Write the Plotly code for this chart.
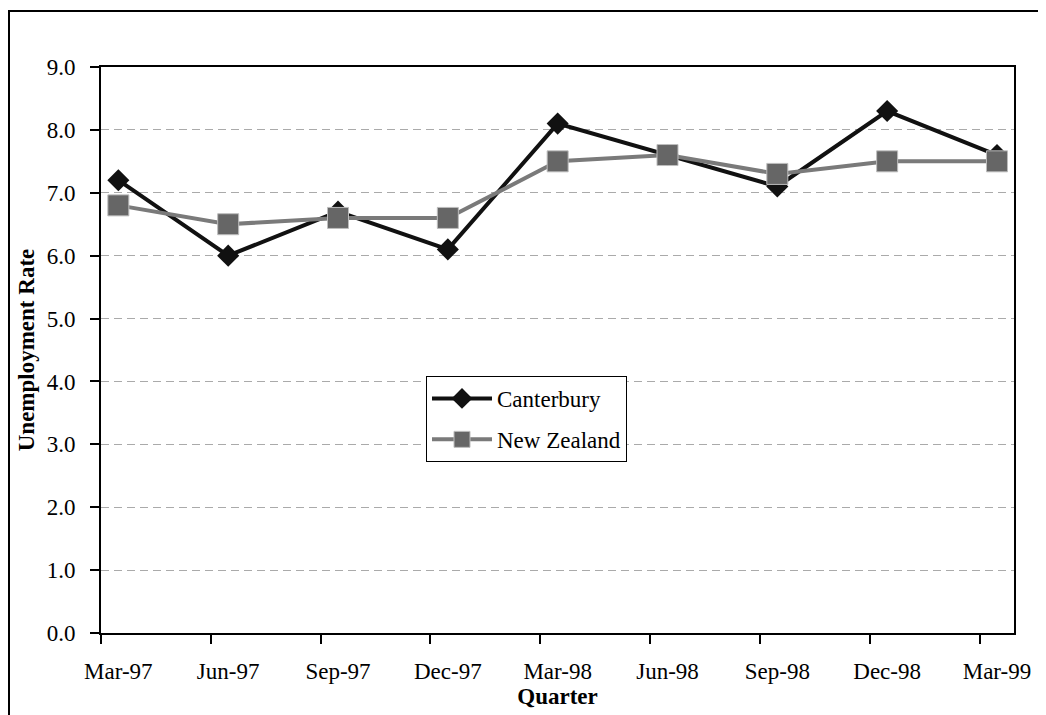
import plotly.graph_objects as go

quarters = ["Mar-97", "Jun-97", "Sep-97", "Dec-97", "Mar-98", "Jun-98", "Sep-98", "Dec-98", "Mar-99"]
canterbury = [7.2, 6.0, 6.7, 6.1, 8.1, 7.6, 7.1, 8.3, 7.6]
new_zealand = [6.8, 6.5, 6.6, 6.6, 7.5, 7.6, 7.3, 7.5, 7.5]
y_ticks = [0, 1, 2, 3, 4, 5, 6, 7, 8, 9]

# page body has an 8px default margin, so the figure is sized/offset for it
PAD = 8
W, H = 1046 - PAD, 715 - PAD
L, R, T, B = 101 - PAD, 32, 67 - PAD, 82
pw, ph = W - L - R, H - T - B

pos = list(range(len(quarters)))
off = 0.158
FONT = "Liberation Serif, Times New Roman, serif"
FS = 23

fig = go.Figure()
fig.add_trace(go.Scatter(
    x=pos, y=canterbury, name="Canterbury", mode="lines+markers",
    legendgroup="a",
    line=dict(color="#111111", width=4),
    marker=dict(symbol="diamond", size=17, color="#111111"),
))
fig.add_trace(go.Scatter(
    x=pos, y=new_zealand, name="New Zealand", mode="lines+markers",
    legendgroup="b",
    line=dict(color="#7a7a7a", width=4),
    marker=dict(symbol="square", size=21, color="#666666",
                line=dict(color="#bdbdbd", width=1)),
))

xr = [-off, len(quarters) - 1 + off - 0.003]
fig.update_layout(
    width=W, height=H,
    margin=dict(l=L, r=R, t=T, b=B),
    paper_bgcolor="white", plot_bgcolor="white",
    font=dict(family=FONT, size=FS, color="black"),
    showlegend=True,
    legend=dict(
        x=(426 - 101) / pw, y=(633 - 376) / ph, xanchor="left", yanchor="top",
        bgcolor="white", bordercolor="black", borderwidth=1,
        font=dict(family=FONT, size=FS, color="black"),
        itemwidth=60, traceorder="grouped", tracegroupgap=8,
    ),
    xaxis=dict(
        range=xr, tickmode="array", tickvals=[p - off for p in pos],
        showticklabels=False, ticks="outside", ticklen=9, tickwidth=1.5,
        tickcolor="black", showgrid=False, zeroline=False,
        showline=True, linecolor="black", linewidth=2, mirror=True,
    ),
    xaxis2=dict(
        range=xr, overlaying="x", anchor="y", side="bottom",
        tickmode="array", tickvals=pos, ticktext=quarters,
        ticks="", ticklabelstandoff=22, showgrid=False, zeroline=False,
        showline=False,
        title=dict(text="<b>Quarter</b>", standoff=3,
                   font=dict(family=FONT, size=FS, color="black")),
    ),
    yaxis=dict(
        range=[0, 9], tickmode="array", tickvals=y_ticks,
        ticktext=[f"{v:.1f}" for v in y_ticks],
        ticks="outside", ticklen=9, tickwidth=1.5, tickcolor="black",
        ticklabelstandoff=10,
        showgrid=True, gridcolor="#aaaaaa", gridwidth=1, griddash="8px,5px",
        zeroline=False, showline=True, linecolor="black", linewidth=2, mirror=True,
        title=dict(text="<b>Unemployment Rate</b>", standoff=6,
                   font=dict(family=FONT, size=FS, color="black")),
    ),
)
# invisible helper trace so the label axis (xaxis2) is drawn
fig.add_trace(go.Scatter(x=[pos[0]], y=[0], xaxis="x2", mode="markers",
                         marker=dict(opacity=0), showlegend=False, hoverinfo="skip"))

# outer chart-area border (left and top visible, runs past the right/bottom edge)
fig.add_shape(type="rect", xref="paper", yref="paper",
              x0=(1 - L) / pw, x1=1 + (R + 20) / pw,
              y0=-(B + 20) / ph, y1=1 + (T - 3) / ph,
              line=dict(color="black", width=2), fillcolor="rgba(0,0,0,0)", layer="below")

fig.write_html("out.html")
